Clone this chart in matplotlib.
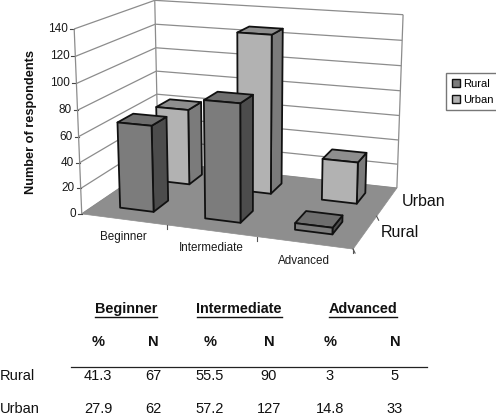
#!/usr/bin/python3
# 3D style bar chart (rural / urban respondents by level) with a small table below
import numpy as np
import matplotlib
matplotlib.use('Agg')
import matplotlib.pyplot as plt
from matplotlib.patches import Polygon, Patch

plt.rcParams['font.family'] = ['Liberation Sans', 'DejaVu Sans']

levels = ['Beginner', 'Intermediate', 'Advanced']
series = ['Rural', 'Urban']
rural_n = [67, 90, 5]
urban_n = [62, 127, 33]
rural_pct = ['41.3', '55.5', '3']
urban_pct = ['27.9', '57.2', '14.8']
z_ticks = [0, 20, 40, 60, 80, 100, 120, 140]

# (category, series, count) -> pixel anchors used to fit the perspective camera
anchors_3d = [(0, 0, 0), (0, 0, 140), (3, 0, 0), (0, 2, 0), (0, 2, 140), (3, 2, 0), (3, 2, 140)]
anchors_px = [(82, 213), (74, 29), (353, 250), (158, 163), (155, 0), (397, 187), (403, 15)]


def fit_camera(pts3d, pts2d):
    rows = []
    rhs = []
    for (x, y, z), (u, v) in zip(pts3d, pts2d):
        rows.append([x, y, z, 1, 0, 0, 0, 0, -u * x, -u * y, -u * z])
        rows.append([0, 0, 0, 0, x, y, z, 1, -v * x, -v * y, -v * z])
        rhs += [u, v]
    p = np.linalg.lstsq(np.array(rows, float), np.array(rhs, float), rcond=None)[0]
    return np.append(p, 1).reshape(3, 4)


camera = fit_camera(anchors_3d, anchors_px)


def project(x, y, z):
    u, v, w = camera @ np.array([x, y, z, 1.0])
    return u / w, v / w


fig = plt.figure(figsize=(4.96, 4.15), dpi=100)
ax = fig.add_axes([0, 0, 1, 1])
ax.set_xlim(0, 496)
ax.set_ylim(415, 0)
ax.axis('off')

GRID = '#8c8c8c'


def line3d(a, b, color=GRID, lw=0.9, zorder=2):
    pa, pb = project(*a), project(*b)
    ax.plot([pa[0], pb[0]], [pa[1], pb[1]], color=color, lw=lw, zorder=zorder, solid_capstyle='butt')


# floor
floor = [project(0, 0, 0), project(3, 0, 0), project(3, 2, 0), project(0, 2, 0)]
ax.add_patch(Polygon(floor, closed=True, fc='#8e8e8e', ec='#8e8e8e', lw=0.5, zorder=1))

# walls, gridlines and value ticks
for t in z_ticks:
    line3d((0, 0, t), (0, 2, t))
    line3d((0, 2, t), (3, 2, t))
    u, v = project(0, 0, t)
    ax.plot([u - 4, u], [v, v], color='#444444', lw=0.8, zorder=2)
    ax.text(u - 6, v, str(t), ha='right', va='center', fontsize=8.5, color='#1a1a1a')
line3d((0, 0, 0), (0, 0, 140))
line3d((0, 2, 0), (0, 2, 140))
line3d((3, 2, 0), (3, 2, 140))

# ticks round the floor edge
for i in range(1, 4):
    a = project(i, 0, 0)
    ax.plot([a[0], a[0]], [a[1], a[1] + 4], color='#555555', lw=0.8, zorder=2)
for j in range(1, 3):
    a = project(3, j - 1, 0)
    ax.plot([a[0], a[0] + 2], [a[1], a[1] + 4], color='#555555', lw=0.8, zorder=2)

# colours per series: front, top, side
colours = {'Rural': ('#7c7c7c', '#6e6e6e', '#4c4c4c'), 'Urban': ('#b2b2b2', '#8e8e8e', '#7b7b7b')}
HALF_W = 0.2
FRONT_D = 0.18
BACK_D = 0.21


def draw_bar(i, j, value, name, zorder):
    front, top, side = colours[name]
    x0, x1 = i + 0.5 - HALF_W, i + 0.5 + HALF_W
    y0, y1 = j + 0.5 - FRONT_D, j + 0.5 + BACK_D
    faces = [
        ([(x1, y0, 0), (x1, y1, 0), (x1, y1, value), (x1, y0, value)], side),
        ([(x0, y0, value), (x1, y0, value), (x1, y1, value), (x0, y1, value)], top),
        ([(x0, y0, 0), (x1, y0, 0), (x1, y0, value), (x0, y0, value)], front),
    ]
    for pts, col in faces:
        ax.add_patch(Polygon([project(*p) for p in pts], closed=True, fc=col, ec='#111111',
                             lw=1.3, joinstyle='round', zorder=zorder))


# back row first so the front row covers it
for i, v in enumerate(urban_n):
    draw_bar(i, 1, v, 'Urban', 3 + i * 0.1)
for i, v in enumerate(rural_n):
    draw_bar(i, 0, v, 'Rural', 4 + i * 0.1)

# category and series labels
label_pos = [(123, 237), (211, 248), (304, 261)]
for name, (u, v) in zip(levels, label_pos):
    ax.text(u, v, name, ha='center', va='center', fontsize=8.4, color='#1a1a1a')
ax.text(402, 201, series[1], ha='left', va='center', fontsize=11.5, color='#111111')
ax.text(381, 232, series[0], ha='left', va='center', fontsize=11.5, color='#111111')
ax.text(31, 122, 'Number of respondents', rotation=90, ha='center', va='center',
        fontsize=9.2, fontweight='bold', color='#111111')

# legend
handles = [Patch(fc=colours[s][0], ec='#111111', lw=1.0, label=s) for s in series]
ax.legend(handles=handles, loc='upper left', bbox_to_anchor=(446, 73), bbox_transform=ax.transData,
          borderaxespad=0, fontsize=8, frameon=True, fancybox=False, edgecolor='#777777',
          handlelength=0.8, handleheight=0.8, handletextpad=0.25, labelspacing=0.55,
          borderpad=0.5, framealpha=1)

# table under the chart
col_x = [98, 153, 210, 269, 330, 395]
head_x = [126, 239, 363]
under = [(95, 157), (197, 282), (329, 397)]
for name, x, (a, b) in zip(levels, head_x, under):
    ax.text(x, 309, name, ha='center', va='center', fontsize=10.4, fontweight='bold', color='#111111')
    ax.plot([a, b], [317, 317], color='#111111', lw=1.0)
for k, x in enumerate(col_x):
    ax.text(x, 342, '%' if k % 2 == 0 else 'N', ha='center', va='center', fontsize=10.5,
            fontweight='bold', color='#111111')
ax.plot([71, 427], [367, 367], color='#222222', lw=0.9)

row_y = {'Rural': 376, 'Urban': 409}
for name, pct, n in [('Rural', rural_pct, rural_n), ('Urban', urban_pct, urban_n)]:
    y = row_y[name]
    ax.text(0, y, name, ha='left', va='center', fontsize=10.5, color='#111111')
    for i in range(3):
        ax.text(col_x[i * 2], y, pct[i], ha='center', va='center', fontsize=10.5, color='#111111')
        ax.text(col_x[i * 2 + 1], y, str(n[i]), ha='center', va='center', fontsize=10.5, color='#111111')

fig.savefig('out.png', dpi=100)
